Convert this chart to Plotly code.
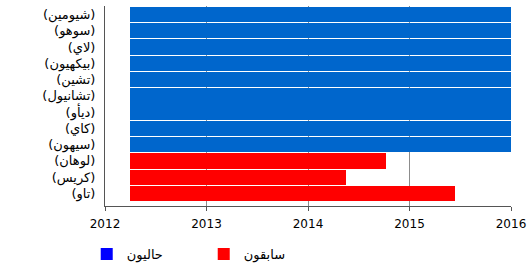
import plotly.graph_objects as go

members = ["(شيومين)", "(سوهو)", "(لاي)", "(بيكهيون)", "(تشين)", "(تشانيول)",
           "(ديأو)", "(كاي)", "(سيهون)", "(لوهان)", "(كريس)", "(تاو)"]
starts = [2012.25] * 12
ends = [2016.0] * 9 + [2014.77, 2014.37, 2015.45]
status = ["current"] * 9 + ["former"] * 3

bar_colors = {"current": "#0066CC", "former": "#FF0000"}
legend_names = {"current": "حاليون", "former": "سابقون"}
legend_colors = {"current": "#0000FF", "former": "#FF0000"}
xticks = [2012, 2013, 2014, 2015, 2016]

FONT = "DejaVu Sans"

fig = go.Figure()
fig.add_trace(go.Bar(
    y=list(range(len(members))),
    x=[e - s for s, e in zip(starts, ends)],
    base=starts,
    orientation="h",
    width=0.94,
    marker=dict(color=[bar_colors[s] for s in status], line=dict(width=0)),
    showlegend=False,
    hoverinfo="skip",
))
for key in ["current", "former"]:
    fig.add_trace(go.Scatter(
        x=[None], y=[None], mode="markers",
        marker=dict(symbol="square", size=11, color=legend_colors[key]),
        name=legend_names[key],
    ))

fig.update_layout(
    width=531, height=265,
    margin=dict(l=104.5, r=20.3, t=6, b=59, autoexpand=False),
    plot_bgcolor="white", paper_bgcolor="white",
    font=dict(family=FONT, size=12, color="black"),
    bargap=0,
    legend=dict(orientation="h", x=-0.045, xanchor="left", y=-0.24, yanchor="middle",
                font=dict(size=13), entrywidth=72, entrywidthmode="pixels",
                itemsizing="constant"),
    xaxis=dict(range=[2012, 2016], tickvals=xticks, ticktext=[str(t) for t in xticks],
               showgrid=True, gridcolor="#8c8c8c", gridwidth=1,
               showline=True, linecolor="#555555", linewidth=1,
               ticks="outside", ticklen=4, tickcolor="#555555", ticklabelstandoff=3,
               tickfont=dict(size=12),
               zeroline=False, fixedrange=True),
    yaxis=dict(range=[11.773, -0.527], tickvals=list(range(len(members))), ticktext=members,
               showgrid=False, showline=True, linecolor="#555555", linewidth=1,
               tickfont=dict(size=13),
               ticks="", ticklabelstandoff=6, zeroline=False, fixedrange=True),
)

fig.write_html("out.html")
